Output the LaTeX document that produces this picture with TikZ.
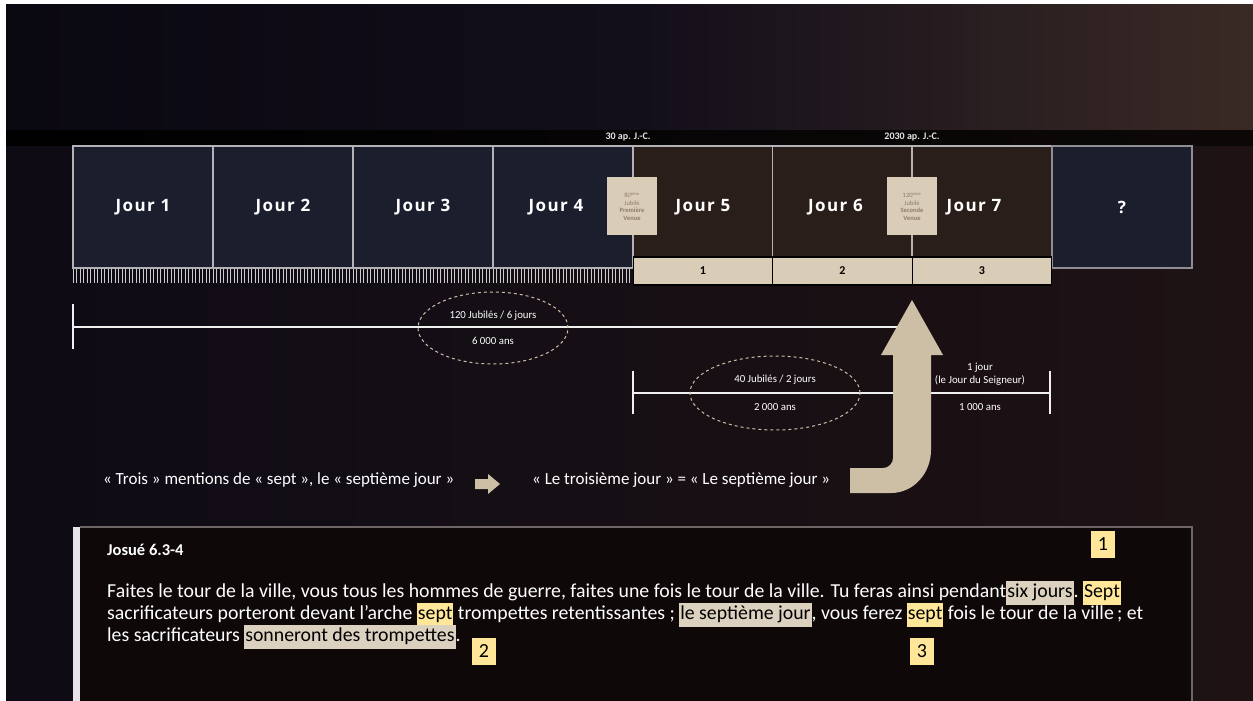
\documentclass[tikz,border=0pt]{standalone}
\usepackage{fontspec}
\setmainfont{Carlito}
\newfontfamily\dayfont[LetterSpace=8]{Open Sans}
\usetikzlibrary{shapes.geometric}
\definecolor{bgL}{HTML}{0A0811}
\definecolor{bgM}{HTML}{120E1A}
\definecolor{bgR}{HTML}{3A2A25}
\definecolor{bgLL}{HTML}{0E0B15}
\definecolor{bgRL}{HTML}{1E1214}
\definecolor{navy}{HTML}{1B1F2D}
\definecolor{brownbox}{HTML}{2A1E1A}
\definecolor{frame}{HTML}{B4B2B6}
\definecolor{beige}{HTML}{D9CDB8}
\definecolor{arrowbeige}{HTML}{CDBFA6}
\definecolor{hlbeige}{HTML}{DCD1BF}
\definecolor{hlyellow}{HTML}{FFE699}
\definecolor{vtext}{HTML}{8C7C68}
\newcommand\hlb[1]{{\setlength\fboxsep{1pt}\colorbox{hlbeige}{\color{black}\strut #1}}}
\newcommand\hly[1]{{\setlength\fboxsep{1pt}\colorbox{hlyellow}{\color{black}\strut #1}}}
\tikzset{
  daybox/.style={draw=frame, line width=1.3pt, minimum width=140pt, minimum height=122pt, inner sep=0pt,
    text=white, font=\dayfont\bfseries\fontsize{17}{19}\selectfont},
  cell/.style={draw=black, line width=1.2pt, fill=beige, minimum width=139.5pt, minimum height=28pt, inner sep=0pt,
    font=\bfseries\fontsize{12}{14}\selectfont},
  venue/.style={fill=beige, minimum width=50pt, minimum height=58pt, inner sep=1pt, align=center,
    text=vtext, font=\fontsize{6.5}{7.5}\selectfont},
  tl/.style={draw=white!88!gray, line width=1.6pt},
  ell/.style={ellipse, draw=arrowbeige, dashed, line width=1pt, inner sep=0pt},
  small/.style={text=white, font=\fontsize{10.8}{13}\selectfont, align=center},
  mid/.style={text=white, font=\fontsize{17}{20}\selectfont},
  body/.style={text=white, font=\fontsize{19.8}{22}\selectfont, anchor=base west, inner sep=0pt},
  numbox/.style={fill=hlyellow, minimum width=24pt, minimum height=27pt, inner sep=0pt, font=\fontsize{20}{22}\selectfont},
  datelbl/.style={text=white!80!gray, font=\bfseries\fontsize{10}{11}\selectfont}
}
\begin{document}
\begin{tikzpicture}[x=1pt,y=-1pt]
\useasboundingbox (0,0) rectangle (1253,701);
\fill[white] (0,0) rectangle (1253,701);
% background
\shade[left color=bgL, right color=bgR, middle color=bgM] (6,5) rectangle (1253,130);
\shade[left color=bgLL, right color=bgRL] (6,145) rectangle (1253,701);
\shade[left color=black!92!bgL, right color=black!80!bgR] (6,130) rectangle (1253,145);
% date labels
\node[datelbl] (date1) at (628,137) {30 ap. J.-C.};
\node[datelbl] (date2) at (912,137) {2030 ap. J.-C.};
% ruler ticks
\foreach \i in {0,...,159} \draw[white!60!gray, line width=0.6pt] ({73+\i*3.5},268) -- ++(0,15);
% day boxes
\node[daybox, fill=navy] (d1) at (143,207) {Jour 1};
\node[daybox, fill=navy] (d2) at (283,207) {Jour 2};
\node[daybox, fill=navy] (d3) at (423,207) {Jour 3};
\node[daybox, fill=navy] (d4) at (563,207) {\hspace*{-14pt}Jour 4};
\node[daybox, fill=brownbox] (d5) at (703,207) {\hspace*{0pt}Jour 5};
\node[daybox, fill=brownbox] (d6) at (842.5,207) {\hspace*{-14pt}Jour 6};
\node[daybox, fill=brownbox] (d7) at (982,207) {\hspace*{-16pt}Jour 7};
\node[daybox, fill=navy, draw=frame!80!black] (d8) at (1122,207) {?};
% venue boxes
\node[venue] (v1) at (632,206) {80\textsuperscript{ème}\\Jubilé\\\textbf{Première}\\\textbf{Venue}};
\node[venue] (v2) at (912,206) {120\textsuperscript{ème}\\Jubilé\\\textbf{Seconde}\\\textbf{Venue}};
% table
\node[cell] (c1) at (703,271) {1};
\node[cell] (c2) at (842.5,271) {2};
\node[cell] (c3) at (982,271) {3};
% timeline 1
\coordinate (a1) at (73,327);
\coordinate (a2) at (912,327);
\coordinate (a1t) at (73,304);
\coordinate (a1b) at (73,349);
\draw[tl] (a1) -- (a2);
\draw[tl] (a1t) -- (a1b);
\node[ell, minimum width=150pt, minimum height=72pt] (e1) at (493,328) {};
\node[small] (e1t) at (493,316) {120 Jubilés / 6 jours};
\node[small] (e1b) at (493,341) {6 000 ans};
% timeline 2
\coordinate (b1) at (633,393);
\coordinate (b2) at (1050,393);
\coordinate (b1t) at (633,371);
\coordinate (b1b) at (633,414);
\coordinate (b2t) at (1050,371);
\coordinate (b2b) at (1050,414);
\draw[tl] (b1) -- (b2);
\draw[tl] (b1t) -- (b1b);
\draw[tl] (b2t) -- (b2b);
\node[ell, minimum width=170pt, minimum height=74pt] (e2) at (775,393) {};
\node[small] (e2t) at (775,380) {40 Jubilés / 2 jours};
\node[small] (e2b) at (775,407) {2 000 ans};
\node[small] (j1) at (980,374) {1 jour\\(le Jour du Seigneur)};
\node[small] (j2) at (980,407) {1 000 ans};
% big arrow
\fill[arrowbeige] (850,468) -- (883,468) to[out=0,in=-90] (893,458) -- (893,355) -- (881,355) -- (912,300)
  -- (943,355) -- (931,355) -- (931,450) to[out=-90,in=0] (891,493) -- (850,493) -- cycle;
% middle row
\node[mid, anchor=west, inner sep=0pt] (m1) at (103,480) {« Trois » mentions de « sept », le « septième jour »};
\fill[arrowbeige] (475,479) -- (488,479) -- (488,474) -- (500,484) -- (488,494) -- (488,489) -- (475,489) -- cycle;
\node[mid, anchor=west, inner sep=0pt] (m2) at (532,480) {« Le troisième jour » = « Le septième jour »};
% bottom box
\fill[black!55!bgRL] (80,527) rectangle (1192,701);
\draw[white!35!bgRL, line width=1.5pt] (80,527) -- (1192,527) -- (1192,701);
\fill[white!80!gray] (73,527) rectangle (80,701);
\node[text=white, font=\bfseries\fontsize{16.5}{19}\selectfont, anchor=base west, inner sep=0pt] (title) at (107,555) {Josué 6.3-4};
\node[body] (l1) at (107,597) {Faites le tour de la ville, vous tous les hommes de guerre, faites une fois le tour de la ville. Tu feras ainsi pendant\hlb{six jours}.~\hly{Sept}};
\node[body] (l2) at (107,619) {sacrificateurs porteront devant l’arche \hly{sept} trompettes retentissantes ; \hlb{le septième jour}, vous ferez \hly{sept} fois le tour de la ville\,; et};
\node[body] (l3) at (107,641) {les sacrificateurs \hlb{sonneront des trompettes}.};
\node[numbox] (n1) at (1103,544) {1};
\node[numbox] (n2) at (484,651) {2};
\node[numbox] (n3) at (922,651) {3};
\end{tikzpicture}
\end{document}
